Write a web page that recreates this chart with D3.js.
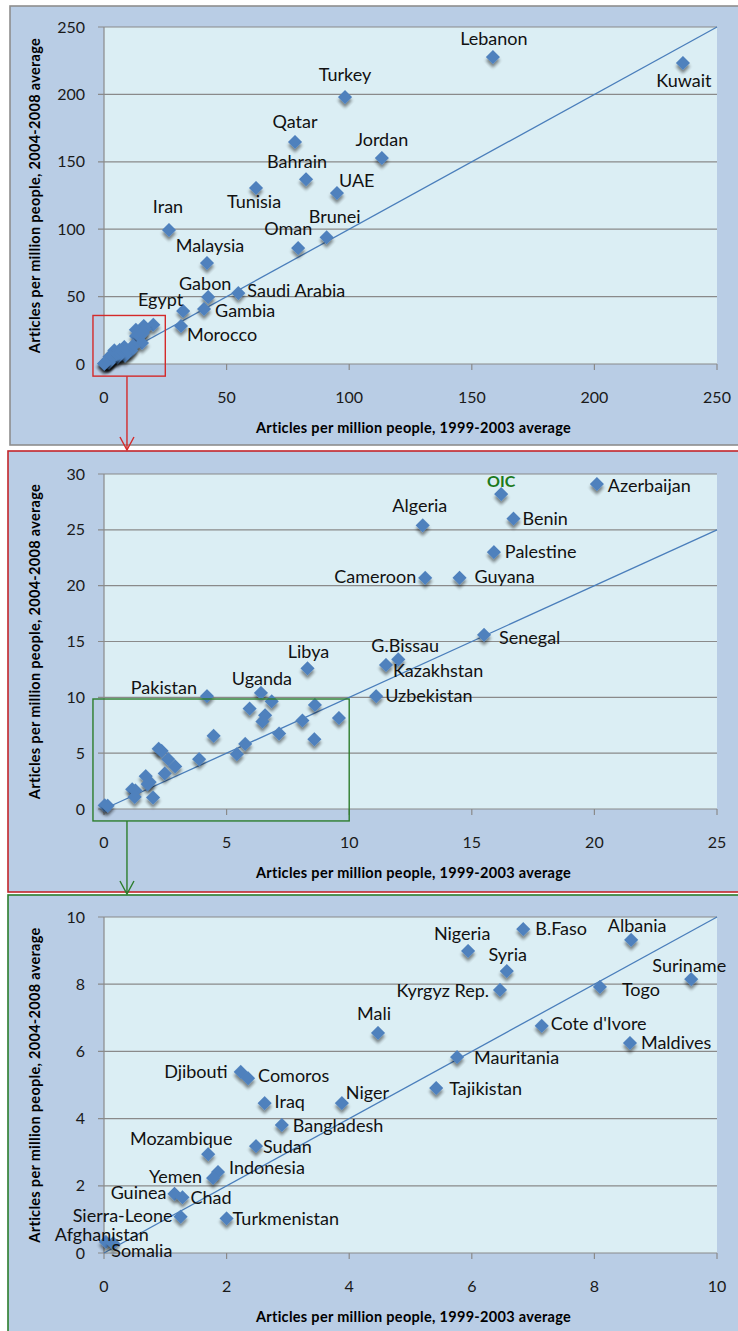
<!DOCTYPE html>
<html>
<head>
<meta charset="utf-8">
<script src="https://cdn.jsdelivr.net/npm/d3@7"></script>
<style>
  body { margin: 0; background: #fff; }
  svg { display: block; font-family: Lato, "Open Sans", sans-serif; }
</style>
</head>
<body>
<div id="chart"></div>
<script>
/* DATA: articles per million people */
const countries = [
  "Lebanon", "Kuwait", "Turkey", "Qatar", "Jordan", "Bahrain", "Tunisia", "UAE",
  "Iran", "Brunei", "Oman", "Malaysia", "Saudi Arabia", "Gabon", "Gambia", "Egypt", "Morocco",
  "Azerbaijan", "OIC", "Benin", "Algeria", "Palestine", "Cameroon", "Guyana", "Senegal",
  "G.Bissau", "Kazakhstan", "Libya", "Uzbekistan", "Uganda", "Pakistan",
  "B.Faso", "Albania", "Nigeria", "Syria", "Suriname", "Togo", "Kyrgyz Rep.", "Cote d'Ivore",
  "Mali", "Maldives", "Mauritania", "Djibouti", "Comoros", "Tajikistan", "Iraq", "Niger",
  "Bangladesh", "Sudan", "Mozambique", "Indonesia", "Yemen", "Guinea", "Chad",
  "Sierra-Leone", "Turkmenistan", "Afghanistan", "Somalia"
];
// 1999-2003 average
const avg9903 = [
  158.6, 236.1, 98.3, 77.9, 113.3, 82.4, 62.0, 95.0,
  26.5, 90.8, 79.2, 42.0, 54.8, 42.5, 40.8, 32.3, 31.4,
  20.1, 16.2, 16.7, 13.0, 15.9, 13.1, 14.5, 15.5,
  12.0, 11.5, 8.3, 11.1, 6.4, 4.2,
  6.84, 8.6, 5.94, 6.57, 9.58, 8.09, 6.46, 7.14,
  4.47, 8.58, 5.76, 2.23, 2.35, 5.42, 2.62, 3.88,
  2.9, 2.48, 1.7, 1.86, 1.78, 1.15, 1.28,
  1.25, 2.0, 0.03, 0.15
];
// 2004-2008 average
const avg0408 = [
  227.7, 223.3, 198.0, 164.7, 152.8, 137.0, 130.6, 126.8,
  99.4, 94.0, 86.0, 74.9, 52.6, 49.7, 40.8, 39.3, 28.2,
  29.1, 28.2, 26.0, 25.4, 23.0, 20.7, 20.7, 15.6,
  13.4, 12.9, 12.6, 10.1, 10.4, 10.1,
  9.64, 9.32, 8.99, 8.39, 8.15, 7.92, 7.83, 6.76,
  6.55, 6.25, 5.83, 5.39, 5.2, 4.91, 4.46, 4.46,
  3.81, 3.18, 2.94, 2.41, 2.23, 1.76, 1.66,
  1.08, 1.03, 0.33, 0.29
];

const panelMax = [250, 30, 10];      // y-axis max per panel
const panelXMax = [250, 25, 10];     // x-axis max per panel
const tickStep = [50, 5, 2];

const xTitle = "Articles per million people, 1999-2003 average";
const yTitle = "Articles per million people, 2004-2008 average";

/* LABEL PLACEMENT: [anchor, dx, dy] relative to the marker */
const labelPos = {
  "Lebanon": ["middle", 1, -12], "Kuwait": ["middle", 1, 24], "Turkey": ["middle", 0, -16],
  "Qatar": ["middle", 0, -14], "Jordan": ["middle", 0, -12], "Bahrain": ["middle", -9, -11],
  "UAE": ["start", 2, -6], "Tunisia": ["middle", -2, 20], "Iran": ["middle", -1, -17],
  "Brunei": ["middle", 8, -14], "Oman": ["middle", -10, -13], "Malaysia": ["middle", 3, -11],
  "Gabon": ["middle", -3, -7], "Saudi Arabia": ["start", 9, 4], "Egypt": ["end", 0, -5],
  "Gambia": ["start", 11, 8], "Morocco": ["start", 6, 15],
  "OIC": ["middle", 0, -7], "Azerbaijan": ["start", 11, 8], "Algeria": ["middle", -3, -13],
  "Benin": ["start", 9, 6], "Palestine": ["start", 11, 6], "Cameroon": ["end", -9, 5],
  "Guyana": ["start", 15, 5], "Senegal": ["start", 15, 9], "G.Bissau": ["middle", 7, -7],
  "Kazakhstan": ["start", 7, 12], "Uzbekistan": ["start", 9, 6], "Libya": ["middle", 1, -10],
  "Pakistan": ["end", -10, -2], "Uganda": ["middle", 1, -8],
  "Nigeria": ["middle", -6, -11], "B.Faso": ["start", 12, 6], "Albania": ["middle", 6, -8],
  "Syria": ["middle", 1, -10], "Suriname": ["middle", -2, -7], "Kyrgyz Rep.": ["end", -11, 7],
  "Togo": ["start", 22, 9], "Mali": ["middle", -4, -13], "Cote d'Ivore": ["start", 9, 4],
  "Maldives": ["start", 11, 6], "Mauritania": ["start", 17, 7], "Tajikistan": ["start", 13, 7],
  "Djibouti": ["end", -13, 6], "Comoros": ["start", 10, 4], "Iraq": ["start", 10, 5],
  "Niger": ["start", 4, -4], "Bangladesh": ["start", 11, 7], "Sudan": ["start", 7, 7],
  "Mozambique": ["middle", -27, -9], "Indonesia": ["start", 11, 2], "Yemen": ["end", -11, 5],
  "Guinea": ["end", -8, 5], "Chad": ["start", 8, 7], "Sierra-Leone": ["end", -8, 5],
  "Turkmenistan": ["start", 6, 7], "Afghanistan": ["middle", -4, -1], "Somalia": ["start", -2, 14]
};

const data = countries.map((c, i) => ({ name: c, x: avg9903[i], y: avg0408[i] }));

/* LAYOUT */
const W = 738, H = 1331;
const plotLeft = 104, plotRight = 717;
const panels = [
  { frameTop: 6, frameBottom: 445, frameLeft: 10, stroke: "#8e8e8e", top: 27, bottom: 364 },
  { frameTop: 451, frameBottom: 892, frameLeft: 8, stroke: "#c3262b", top: 474, bottom: 809 },
  { frameTop: 895, frameBottom: 1345, frameLeft: 8, stroke: "#2c7d2c", top: 917, bottom: 1253 }
];

const svg = d3.select("#chart").append("svg")
  .attr("width", W).attr("height", H);

const defs = svg.append("defs");
const shadow = defs.append("filter").attr("id", "shadow")
  .attr("x", "-50%").attr("y", "-50%").attr("width", "200%").attr("height", "200%");
shadow.append("feDropShadow")
  .attr("dx", 2.5).attr("dy", 2.5).attr("stdDeviation", 1.6)
  .attr("flood-color", "#000").attr("flood-opacity", 0.45);

const diamond = d3.symbol(d3.symbolSquare, 100);
const scales = [];

panels.forEach((p, i) => {
  const g = svg.append("g");
  const x = d3.scaleLinear().domain([0, panelXMax[i]]).range([plotLeft, plotRight]);
  const y = d3.scaleLinear().domain([0, panelMax[i]]).range([p.bottom, p.top]);
  scales.push({ x, y });

  // frame
  g.append("rect")
    .attr("x", p.frameLeft).attr("y", p.frameTop)
    .attr("width", W + 20 - p.frameLeft).attr("height", p.frameBottom - p.frameTop)
    .attr("fill", "#b9cde5").attr("stroke", p.stroke).attr("stroke-width", 1.6);

  // plot area
  g.append("rect")
    .attr("x", plotLeft).attr("y", p.top)
    .attr("width", plotRight - plotLeft).attr("height", p.bottom - p.top)
    .attr("fill", "#dbeef4");

  const ticksY = d3.range(0, panelMax[i] + 0.001, tickStep[i]);
  const ticksX = d3.range(0, panelXMax[i] + 0.001, tickStep[i]);

  // gridlines
  g.selectAll(".grid").data(ticksY).join("line")
    .attr("x1", plotLeft - 6).attr("x2", plotRight)
    .attr("y1", d => y(d)).attr("y2", d => y(d))
    .attr("stroke", "#8a8a8a").attr("stroke-width", 1.2);

  // y axis line
  g.append("line")
    .attr("x1", plotLeft).attr("x2", plotLeft)
    .attr("y1", p.top).attr("y2", p.bottom)
    .attr("stroke", "#8a8a8a").attr("stroke-width", 1.2);

  // x ticks
  g.selectAll(".xt").data(ticksX).join("line")
    .attr("x1", d => x(d)).attr("x2", d => x(d))
    .attr("y1", p.bottom).attr("y2", p.bottom + 6)
    .attr("stroke", "#8a8a8a").attr("stroke-width", 1.2);

  g.selectAll(".xl").data(ticksX).join("text")
    .attr("x", d => x(d)).attr("y", p.bottom + 39)
    .attr("text-anchor", "middle").attr("font-size", 16).attr("fill", "#1a1a1a")
    .text(d => d);

  g.selectAll(".yl").data(ticksY).join("text")
    .attr("x", plotLeft - 19).attr("y", d => y(d)).attr("dy", "0.35em")
    .attr("text-anchor", "end").attr("font-size", 16).attr("fill", "#1a1a1a")
    .text(d => d);

  // axis titles
  g.append("text")
    .attr("x", (plotLeft + plotRight) / 2 + 3).attr("y", p.bottom + 69)
    .attr("text-anchor", "middle").attr("font-size", 14.5).attr("font-weight", "bold")
    .attr("letter-spacing", 0.3)
    .text(xTitle);

  g.append("text")
    .attr("transform", `translate(40,${(p.top + p.bottom) / 2}) rotate(-90)`)
    .attr("text-anchor", "middle").attr("font-size", 14.5).attr("font-weight", "bold")
    .attr("letter-spacing", 0.3)
    .text(yTitle);

  // y = x reference line
  g.append("line")
    .attr("x1", x(0)).attr("y1", y(0))
    .attr("x2", x(panelXMax[i])).attr("y2", y(panelXMax[i]))
    .attr("stroke", "#4a7ebb").attr("stroke-width", 1.3);

  const inside = data.filter(d => d.x <= panelXMax[i] && d.y <= panelMax[i]);

  g.selectAll(".pt").data(inside).join("path")
    .attr("d", diamond)
    .attr("transform", d => `translate(${x(d.x)},${y(d.y)}) rotate(45)`)
    .attr("fill", "#4f81bd")
    .attr("filter", "url(#shadow)");

  // label only countries that do not appear in the next (zoomed) panel
  const nextX = panelXMax[i + 1], nextY = panelMax[i + 1];
  const labelled = inside.filter(d => nextX === undefined || d.x > nextX || d.y > nextY);

  g.selectAll(".lbl").data(labelled).join("text")
    .attr("x", d => x(d.x) + labelPos[d.name][1])
    .attr("y", d => y(d.y) + labelPos[d.name][2])
    .attr("text-anchor", d => labelPos[d.name][0])
    .attr("font-size", d => d.name === "OIC" ? 16 : 18)
    .attr("font-weight", d => d.name === "OIC" ? "bold" : "normal")
    .attr("fill", d => d.name === "OIC" ? "#1c7a1c" : "#111")
    .text(d => d.name);
});

// zoom boxes and arrows linking the panels
const zooms = [
  { from: 0, x0: -4.5, x1: 25, y0: -9, y1: 36, color: "#d42a2a" },
  { from: 1, x0: -0.45, x1: 10, y0: -1.07, y1: 9.85, color: "#2c7d2c" }
];
zooms.forEach(z => {
  const s = scales[z.from];
  const target = panels[z.from + 1].frameTop;
  const bx0 = s.x(z.x0), bx1 = s.x(z.x1), by0 = s.y(z.y1), by1 = s.y(z.y0);
  svg.append("rect")
    .attr("x", bx0).attr("y", by0).attr("width", bx1 - bx0).attr("height", by1 - by0)
    .attr("fill", "none").attr("stroke", z.color).attr("stroke-width", 1.4);
  const ax = bx0 + 34;
  svg.append("line")
    .attr("x1", ax).attr("x2", ax).attr("y1", by1).attr("y2", target - 1)
    .attr("stroke", z.color).attr("stroke-width", 1.4);
  svg.append("path")
    .attr("d", `M${ax - 7},${target - 14} L${ax},${target - 1} L${ax + 7},${target - 14}`)
    .attr("fill", "none").attr("stroke", z.color).attr("stroke-width", 1.4);
});
</script>
</body>
</html>
